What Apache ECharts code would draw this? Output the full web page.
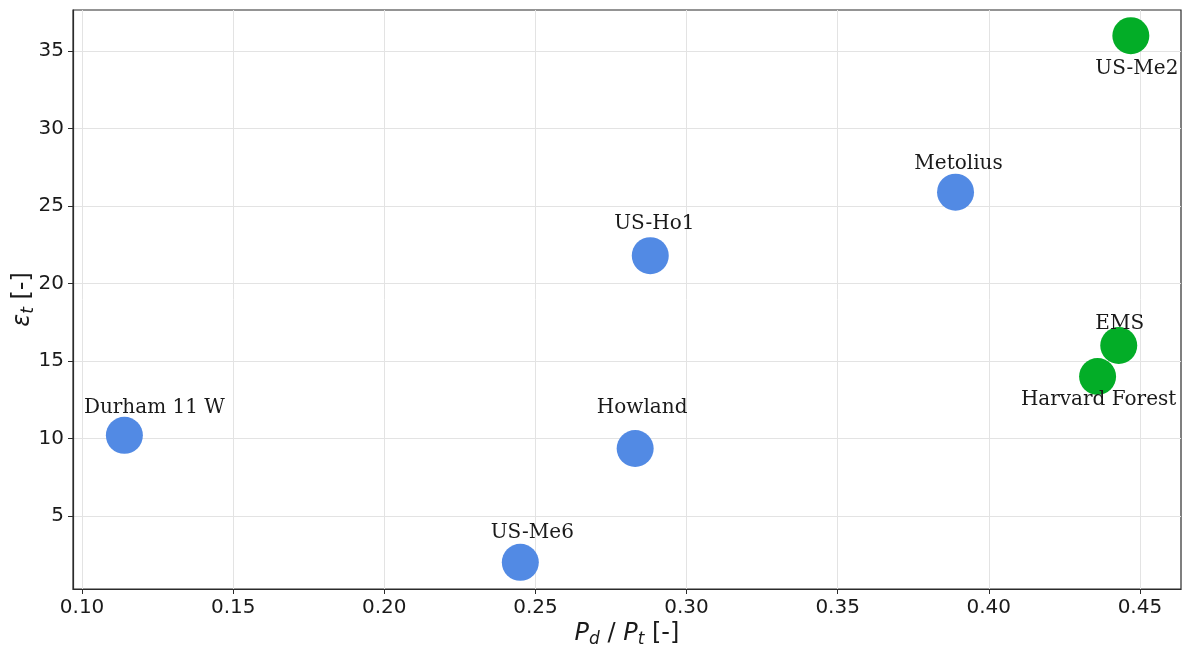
<!DOCTYPE html>
<html>
<head>
<meta charset="utf-8">
<script src="https://cdn.jsdelivr.net/npm/echarts@6/dist/echarts.min.js"></script>
<style>
  html, body { margin: 0; padding: 0; background: #ffffff; }
  #chart { width: 1186px; height: 648px; }
</style>
</head>
<body>
<div id="chart"></div>
<script>
// Sites, diffuse-to-total ratio P_d/P_t and epsilon_t per site
const siteNames = ['Durham 11 W', 'US-Me6', 'Howland', 'US-Ho1', 'Metolius', 'US-Me2', 'EMS', 'Harvard Forest'];
const pdRatio   = [0.114, 0.245, 0.283, 0.288, 0.389, 0.447, 0.443, 0.436];
const epsilonT  = [10.2, 2.0, 9.35, 21.8, 25.9, 36.0, 16.0, 14.0];
// 0 = first group (blue), 1 = second group (green)
const siteGroup = [0, 0, 0, 0, 0, 1, 1, 1];

const xTickValues = [0.10, 0.15, 0.20, 0.25, 0.30, 0.35, 0.40, 0.45];
const yTickValues = [5, 10, 15, 20, 25, 30, 35];

// Styling: annotation offsets (px) of each site name from its marker centre
const groupColors = ['#528ae4', '#03ad27'];
const labelOffsets = {
  'Durham 11 W':    [30, -28],
  'US-Me6':         [12, -30],
  'Howland':        [7, -41],
  'US-Ho1':         [4, -32],
  'Metolius':       [3, -28],
  'US-Me2':         [6, 33],
  'EMS':            [1, -22],
  'Harvard Forest': [1, 23]
};

const textColor = '#1a1a1a';
const sansFont = 'DejaVu Sans';
const serifFont = 'DejaVu Serif';

function groupData(g) {
  const out = [];
  siteNames.forEach(function (name, i) {
    if (siteGroup[i] !== g) return;
    out.push({
      name: name,
      value: [pdRatio[i], epsilonT[i]],
      label: { offset: labelOffsets[name] }
    });
  });
  return out;
}

const seriesLabel = {
  show: true,
  formatter: '{b}',
  position: 'inside',
  fontFamily: serifFont,
  fontSize: 20,
  color: textColor
};

const axisNameRich = {
  i:   { fontFamily: sansFont, fontStyle: 'italic', fontSize: 24, color: textColor },
  sub: { fontFamily: sansFont, fontStyle: 'italic', fontSize: 17, color: textColor, padding: [12, 0, 0, 0] },
  n:   { fontFamily: sansFont, fontSize: 24, color: textColor }
};

const chart = echarts.init(document.getElementById('chart'), null, { renderer: 'canvas' });

chart.setOption({
  backgroundColor: '#ffffff',
  animation: false,
  grid: {
    left: 73, right: 5, top: 10, bottom: 59,
    outerBoundsMode: 'none',
    containLabel: false,
    show: true,
    borderColor: '#2b2b2b',
    borderWidth: 1.2,
    backgroundColor: 'transparent'
  },
  xAxis: {
    type: 'value',
    min: 0.097,
    max: 0.4636,
    name: '{i|P}{sub|d}{n| / }{i|P}{sub|t}{n| [-]}',
    nameLocation: 'middle',
    nameGap: 30,
    nameMoveOverlap: false,
    nameTextStyle: { rich: axisNameRich },
    axisLine: { show: true, onZero: false, lineStyle: { color: '#2b2b2b', width: 1.2 } },
    axisTick: { show: true, length: 5, lineStyle: { color: '#2b2b2b' }, customValues: xTickValues },
    axisLabel: {
      customValues: xTickValues,
      margin: 9,
      fontFamily: sansFont,
      fontSize: 20,
      color: textColor,
      formatter: function (v) { return v.toFixed(2); }
    },
    splitLine: { show: true, lineStyle: { color: '#e3e3e3', width: 1 } }
  },
  yAxis: {
    type: 'value',
    min: 0.28,
    max: 37.66,
    name: '{i|ε}{sub|t}{n| [-]}',
    nameLocation: 'middle',
    nameRotate: 90,
    nameGap: 36,
    nameMoveOverlap: false,
    nameTextStyle: { rich: axisNameRich },
    axisLine: { show: true, onZero: false, lineStyle: { color: '#2b2b2b', width: 1.2 } },
    axisTick: { show: true, length: 5, lineStyle: { color: '#2b2b2b' }, customValues: yTickValues },
    axisLabel: {
      customValues: yTickValues,
      margin: 9,
      fontFamily: sansFont,
      fontSize: 20,
      color: textColor
    },
    splitLine: { show: true, lineStyle: { color: '#e3e3e3', width: 1 } }
  },
  series: [0, 1].map(function (g) {
    return {
      type: 'scatter',
      symbol: 'circle',
      symbolSize: 37,
      itemStyle: { color: groupColors[g], opacity: 1 },
      label: seriesLabel,
      emphasis: { disabled: true },
      data: groupData(g)
    };
  })
});
</script>
</body>
</html>
